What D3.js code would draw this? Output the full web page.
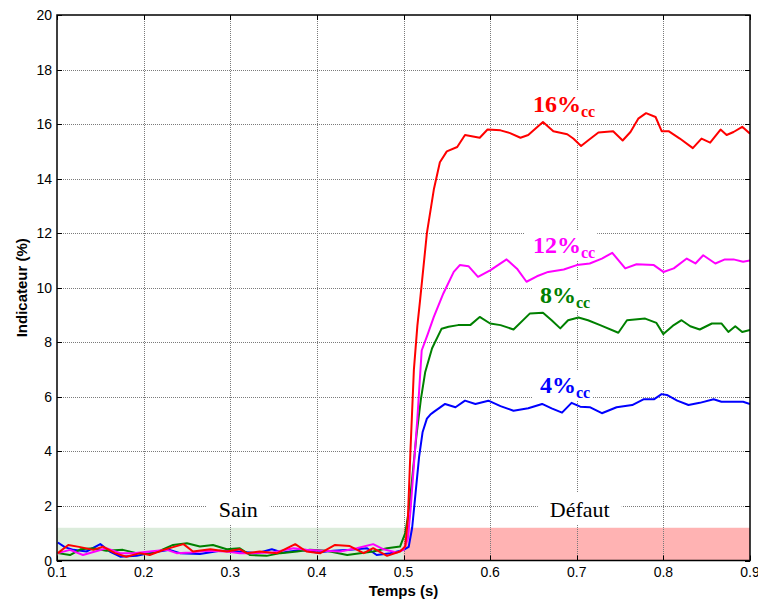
<!DOCTYPE html>
<html>
<head>
<meta charset="utf-8">
<script src="https://cdn.jsdelivr.net/npm/d3@7"></script>
<style>
  body { margin: 0; background: #fff; }
  svg { display: block; }
</style>
</head>
<body>
<svg id="chart" width="758" height="601"></svg>
<script>
// axes ticks
var xTicks = [0.1, 0.2, 0.3, 0.4, 0.5, 0.6, 0.7, 0.8, 0.9];
var yTicks = [0, 2, 4, 6, 8, 10, 12, 14, 16, 18, 20];

// 4%cc (blue)
var blueT = [0.101,0.109,0.119,0.134,0.150,0.161,0.173,0.192,0.207,0.230,0.242,0.265,0.288,0.308,0.331,0.348,0.361,0.381,0.400,0.419,0.438,0.458,0.469,0.485,0.500,0.506,0.510,0.514,0.518,0.522,0.527,0.531,0.535,0.548,0.560,0.571,0.583,0.598,0.612,0.627,0.644,0.660,0.671,0.683,0.694,0.704,0.715,0.729,0.746,0.764,0.777,0.789,0.798,0.804,0.816,0.829,0.842,0.858,0.867,0.881,0.892,0.900];
var blueV = [0.66,0.49,0.39,0.33,0.60,0.33,0.14,0.17,0.27,0.39,0.27,0.24,0.36,0.33,0.27,0.41,0.29,0.39,0.29,0.36,0.39,0.45,0.20,0.27,0.39,0.5,1.2,2.5,3.8,4.7,5.2,5.35,5.45,5.74,5.62,5.86,5.74,5.86,5.66,5.49,5.58,5.74,5.58,5.42,5.78,5.64,5.62,5.40,5.62,5.70,5.91,5.91,6.10,6.07,5.86,5.70,5.78,5.91,5.82,5.82,5.82,5.74];

// 8%cc (green)
var greenT = [0.101,0.115,0.127,0.142,0.157,0.176,0.192,0.207,0.219,0.234,0.250,0.265,0.280,0.296,0.311,0.323,0.342,0.358,0.377,0.392,0.411,0.435,0.450,0.465,0.481,0.496,0.502,0.506,0.510,0.515,0.520,0.525,0.533,0.544,0.552,0.563,0.577,0.588,0.600,0.612,0.627,0.646,0.661,0.671,0.681,0.690,0.702,0.713,0.727,0.748,0.758,0.779,0.792,0.800,0.812,0.821,0.831,0.842,0.856,0.867,0.875,0.883,0.891,0.900];
var greenV = [0.27,0.20,0.41,0.45,0.36,0.39,0.27,0.24,0.36,0.57,0.63,0.51,0.57,0.41,0.45,0.20,0.17,0.27,0.33,0.39,0.36,0.20,0.27,0.33,0.45,0.51,1.0,1.8,3.0,4.6,5.9,6.9,7.78,8.5,8.57,8.63,8.63,8.93,8.69,8.63,8.47,9.06,9.08,8.81,8.51,8.81,8.91,8.81,8.63,8.35,8.81,8.87,8.71,8.3,8.63,8.81,8.59,8.47,8.69,8.69,8.38,8.59,8.38,8.45];

// 12%cc (magenta)
var magentaT = [0.101,0.115,0.130,0.144,0.157,0.173,0.188,0.207,0.227,0.238,0.254,0.273,0.296,0.311,0.326,0.349,0.373,0.388,0.407,0.427,0.446,0.465,0.477,0.492,0.500,0.505,0.508,0.512,0.516,0.521,0.528,0.535,0.546,0.558,0.565,0.575,0.586,0.600,0.619,0.631,0.642,0.654,0.667,0.685,0.700,0.715,0.729,0.741,0.756,0.769,0.789,0.800,0.812,0.827,0.837,0.846,0.860,0.871,0.881,0.892,0.900];
var magentaV = [0.27,0.39,0.20,0.33,0.45,0.27,0.27,0.33,0.39,0.27,0.29,0.36,0.33,0.27,0.27,0.29,0.45,0.39,0.36,0.33,0.45,0.60,0.41,0.29,0.39,0.8,1.8,3.5,5.2,7.7,8.3,8.93,9.79,10.58,10.83,10.79,10.4,10.64,11.04,10.7,10.22,10.42,10.58,10.67,10.83,10.89,11.07,11.28,10.71,10.86,10.83,10.58,10.71,11.07,10.89,11.19,10.89,11.04,11.04,10.95,11.0];

// 16%cc (red)
var redT = [0.101,0.113,0.127,0.142,0.153,0.167,0.180,0.196,0.207,0.223,0.246,0.257,0.277,0.296,0.311,0.319,0.334,0.354,0.375,0.388,0.404,0.421,0.438,0.454,0.465,0.481,0.496,0.502,0.505,0.508,0.512,0.516,0.519,0.527,0.535,0.542,0.550,0.562,0.571,0.588,0.597,0.612,0.623,0.635,0.644,0.661,0.673,0.689,0.696,0.705,0.713,0.725,0.742,0.753,0.762,0.771,0.780,0.791,0.798,0.806,0.819,0.834,0.844,0.854,0.866,0.873,0.881,0.891,0.900];
var redV = [0.27,0.57,0.49,0.39,0.51,0.27,0.14,0.27,0.20,0.39,0.60,0.33,0.41,0.33,0.41,0.27,0.33,0.27,0.60,0.33,0.27,0.57,0.53,0.27,0.45,0.17,0.33,0.51,1.5,4.0,7.0,8.6,9.5,12.0,13.6,14.6,15.0,15.16,15.6,15.5,15.8,15.77,15.67,15.5,15.6,16.08,15.74,15.63,15.47,15.2,15.4,15.69,15.74,15.4,15.71,16.2,16.4,16.26,15.74,15.74,15.47,15.12,15.47,15.32,15.8,15.6,15.71,15.9,15.65];

var seriesNames = ["4", "8", "12", "16"];
var seriesColors = ["#0000ff", "#008000", "#ff00ff", "#ff0000"];
// draw order: blue, green, magenta, red on top
var seriesT = [blueT, greenT, magentaT, redT];
var seriesV = [blueV, greenV, magentaV, redV];

// zones
var zoneStarts = [0.1, 0.5];
var zoneEnds = [0.5, 0.9];
var zoneLabels = ["Sain", "Défaut"];
var zoneColors = ["#dcecdc", "#ffb3b3"];
var zoneHeight = 1.2;

(function () {
  'use strict';

  var left = 57, right = 750, top = 15, bottom = 560.5;
  var svg = d3.select("#chart");

  var x = d3.scaleLinear().domain([0.1, 0.9]).range([left, right]);
  var y = d3.scaleLinear().domain([0, 20]).range([bottom, top]);

  // zones (under the grid)
  svg.append("g").selectAll("rect").data(zoneStarts).enter().append("rect")
      .attr("x", function(d){ return x(d); })
      .attr("width", function(d, i){ return x(zoneEnds[i]) - x(d); })
      .attr("y", y(zoneHeight))
      .attr("height", y(0) - y(zoneHeight))
      .attr("fill", function(d, i){ return zoneColors[i]; });

  // grid
  var grid = svg.append("g").attr("class", "grid");
  grid.selectAll("line.gx").data(xTicks.slice(1, -1)).enter().append("line")
      .attr("x1", function(d){ return Math.round(x(d)) + 0.5; })
      .attr("x2", function(d){ return Math.round(x(d)) + 0.5; })
      .attr("y1", top).attr("y2", bottom)
      .attr("stroke", "#7a7a7a").attr("stroke-width", 1).attr("stroke-dasharray", "1,1");
  grid.selectAll("line.gy").data(yTicks.slice(1, -1)).enter().append("line")
      .attr("y1", function(d){ return Math.round(y(d)) + 0.5; })
      .attr("y2", function(d){ return Math.round(y(d)) + 0.5; })
      .attr("x1", left).attr("x2", right)
      .attr("stroke", "#7a7a7a").attr("stroke-width", 1).attr("stroke-dasharray", "1,1");

  // zone labels with white background
  var zoneG = svg.append("g");
  zoneLabels.forEach(function(lbl, i){
    var cx = i == 0 ? x(0.3) + 8 : x(0.7) + 3;
    var bg = zoneG.append("rect").attr("fill", "#fff");
    var t = zoneG.append("text")
        .attr("x", cx).attr("y", 517)
        .attr("text-anchor", "middle")
        .attr("font-family", "'Liberation Serif', 'Times New Roman', serif")
        .attr("font-size", 22)
        .text(lbl);
    var b = t.node().getBBox();
    bg.attr("x", b.x - 12).attr("y", b.y - 4).attr("width", b.width + 24).attr("height", b.height + 6);
  });

  // series label backgrounds are drawn before curves
  var labelPos = [[540, 393], [540, 303], [533, 253], [533, 112]];
  var labBg = svg.append("g");

  // curves
  var line = d3.line()
      .x(function(d){ return x(d[0]); })
      .y(function(d){ return y(d[1]); });

  svg.append("defs").append("clipPath").attr("id", "plotClip")
    .append("rect").attr("x", left).attr("y", top).attr("width", right - left).attr("height", bottom - top);

  var curves = svg.append("g").attr("clip-path", "url(#plotClip)");
  seriesT.forEach(function(ts, i){
    var pts = ts.map(function(t, j){ return [t, seriesV[i][j]]; });
    curves.append("path")
        .datum(pts)
        .attr("d", line)
        .attr("fill", "none")
        .attr("stroke", seriesColors[i])
        .attr("stroke-width", 2)
        .attr("stroke-linejoin", "round");
  });

  // series labels
  var labG = svg.append("g");
  seriesNames.forEach(function(n, i){
    var bg = labBg.append("rect").attr("fill", "#fff");
    var t = labG.append("text")
        .attr("x", labelPos[i][0]).attr("y", labelPos[i][1])
        .attr("fill", seriesColors[i])
        .attr("font-family", "'Liberation Serif', 'Times New Roman', serif")
        .attr("font-weight", "bold")
        .attr("font-size", 24);
    t.append("tspan").text(n + "%");
    t.append("tspan").attr("font-size", 16).attr("dy", 5).text("cc");
    var b = t.node().getBBox();
    bg.attr("x", b.x - 8).attr("y", b.y - 1).attr("width", b.width + 10).attr("height", b.height + 1);
  });

  // frame
  svg.append("rect")
      .attr("x", left).attr("y", top)
      .attr("width", right - left).attr("height", bottom - top)
      .attr("fill", "none").attr("stroke", "#000").attr("stroke-width", 1.5);

  // ticks (inward, all four sides)
  var tk = 5;
  var tg = svg.append("g").attr("stroke", "#000").attr("stroke-width", 1);
  xTicks.forEach(function(d){
    var px = Math.round(x(d)) + 0.5;
    tg.append("line").attr("x1", px).attr("x2", px).attr("y1", bottom).attr("y2", bottom - tk);
    tg.append("line").attr("x1", px).attr("x2", px).attr("y1", top).attr("y2", top + tk);
  });
  yTicks.forEach(function(d){
    var py = Math.round(y(d)) + 0.5;
    tg.append("line").attr("x1", left).attr("x2", left + tk).attr("y1", py).attr("y2", py);
    tg.append("line").attr("x1", right).attr("x2", right - tk).attr("y1", py).attr("y2", py);
  });

  // tick labels
  var font = "'Liberation Sans', Arial, sans-serif";
  svg.append("g").selectAll("text").data(xTicks).enter().append("text")
      .attr("x", function(d){ return x(d); })
      .attr("y", 577)
      .attr("text-anchor", "middle")
      .attr("font-family", font).attr("font-size", 14)
      .text(function(d){ return d3.format(".1f")(d); });
  svg.append("g").selectAll("text").data(yTicks).enter().append("text")
      .attr("x", 52)
      .attr("y", function(d){ return y(d) + 5; })
      .attr("text-anchor", "end")
      .attr("font-family", font).attr("font-size", 14)
      .text(function(d){ return d; });

  // axis titles
  svg.append("text")
      .attr("x", (left + right) / 2).attr("y", 596)
      .attr("text-anchor", "middle")
      .attr("font-family", font).attr("font-size", 15).attr("font-weight", "bold")
      .text("Temps (s)");
  svg.append("text")
      .attr("transform", "translate(27," + ((top + bottom) / 2) + ") rotate(-90)")
      .attr("text-anchor", "middle")
      .attr("font-family", font).attr("font-size", 15).attr("font-weight", "bold")
      .text("Indicateur (%)");
})();
</script>
</body>
</html>
